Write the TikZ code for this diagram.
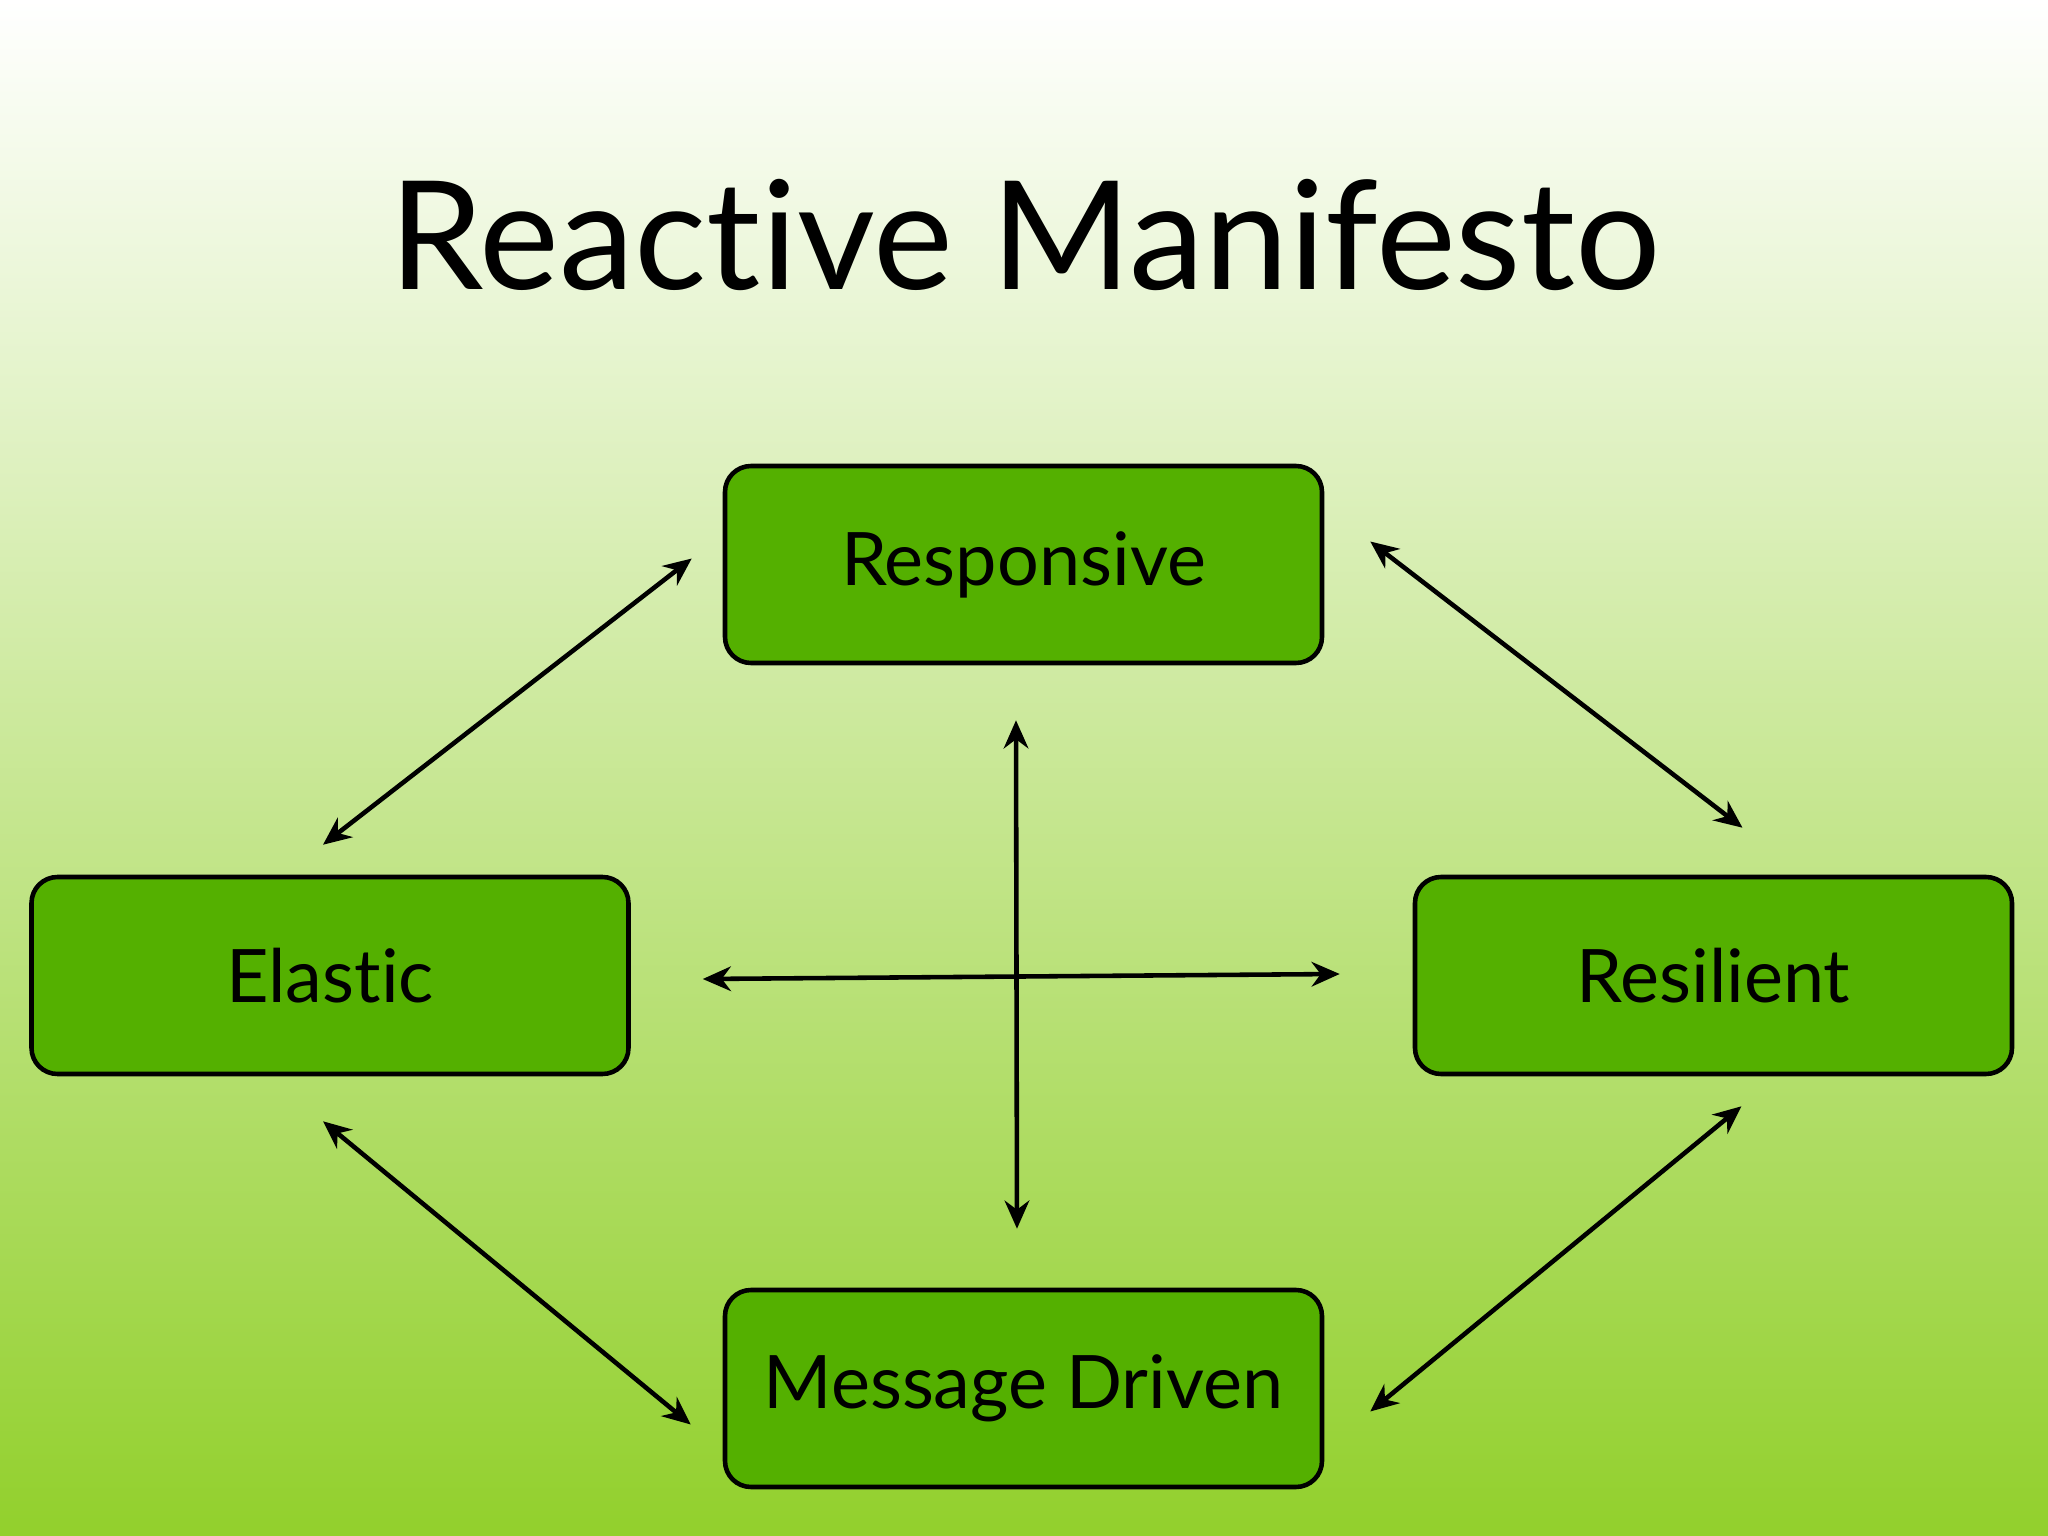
\documentclass[tikz,border=0pt]{standalone}
\usepackage{fontspec}
\setmainfont{Lato}[Ligatures=NoCommon]
\usetikzlibrary{arrows.meta}
\definecolor{boxgreen}{RGB}{84,176,0}
\definecolor{bgmid}{RGB}{200,230,155}
\definecolor{bgbottom}{RGB}{146,208,44}

\begin{document}
\begin{tikzpicture}[
    trait/.style ={rectangle, rounded corners=2.6mm, draw, line width=1.3pt, fill=boxgreen,
      minimum width=5.97cm, minimum height=1.97cm, font=\fontsize{21}{25}\selectfont},
    link/.style ={line width=1.3pt, {Stealth[length=8pt,width=7pt]}-{Stealth[length=8pt,width=7pt]}}]
   \useasboundingbox (0,0) rectangle (20.48,-15.36);
   \fill[top color=white, middle color=bgmid, bottom color=bgbottom] (0,0) rectangle (20.48,-15.36);
   \node (title) [anchor=base, font=\fontsize{43}{50}\selectfont] at (10.25,-2.90) {Reactive Manifesto};
   \node[trait] (resp) at (10.235,-5.645)  {Responsive};
   \node[trait] (elas) at (3.30,-9.755)  {Elastic};
   \node[trait] (resi) at (17.135,-9.755)  {Resilient};
   \node[trait] (msg) at (10.235,-13.885)  {Message Driven};
   \draw[link] ([shift={(-0.07,0.30)}]elas.north) to ([shift={(-0.31,0.06)}]resp.west);
   \draw[link] ([shift={(0.46,0.23)}]resp.east) to ([shift={(0.29,0.47)}]resi.north);
   \draw[link] ([shift={(-0.07,-0.45)}]elas.south) to ([shift={(-0.32,-0.36)}]msg.west);
   \draw[link] ([shift={(0.28,-0.30)}]resi.south) to ([shift={(0.46,-0.23)}]msg.east);
   \draw[link] ([shift={(-0.075,-0.55)}]resp.south) to ([shift={(-0.065,0.59)}]msg.north);
   \draw[link] ([shift={(0.72,-0.035)}]elas.east) to ([shift={(-0.73,0.015)}]resi.west);
\end{tikzpicture}
\end{document}
